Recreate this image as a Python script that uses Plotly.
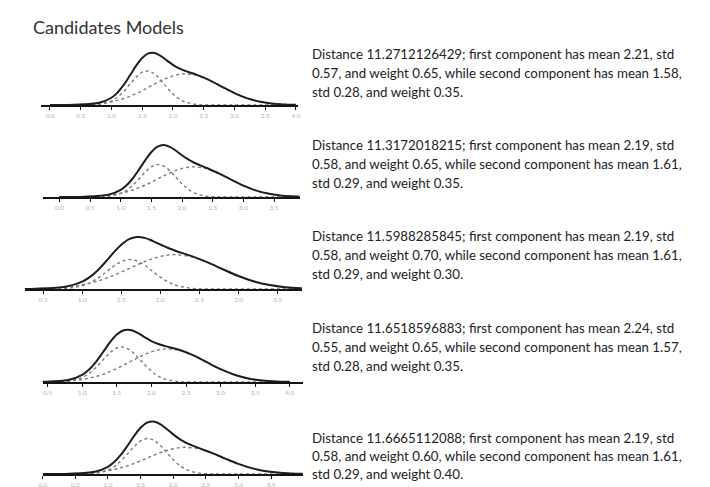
import plotly.graph_objects as go

# ---------------- data ----------------
x_grid = [0.0, 0.4, 0.8, 1.0, 1.1, 1.2, 1.3, 1.4, 1.5, 1.6, 1.7, 1.8, 1.9, 2.0,
          2.1, 2.2, 2.4, 2.6, 2.8, 3.0, 3.2, 3.4, 3.6, 3.8, 4.0]

# model 1
m1_total = [0.000, 0.003, 0.032, 0.106, 0.183, 0.293, 0.430, 0.571, 0.688, 0.754, 0.760, 0.717, 0.652,
            0.587, 0.535, 0.498, 0.437, 0.361, 0.266, 0.174, 0.101, 0.052, 0.023, 0.009, 0.003]
m1_first = [0.000, 0.003, 0.021, 0.048, 0.068, 0.095, 0.127, 0.166, 0.209, 0.257, 0.305, 0.351, 0.392,
            0.425, 0.447, 0.455, 0.430, 0.360, 0.266, 0.174, 0.101, 0.052, 0.023, 0.009, 0.003]
m1_second = [0.000, 0.000, 0.010, 0.058, 0.115, 0.199, 0.303, 0.406, 0.479, 0.497, 0.455, 0.366, 0.260,
             0.162, 0.089, 0.043, 0.007, 0.001, 0.000, 0.000, 0.000, 0.000, 0.000, 0.000, 0.000]
# model 2
m2_total = [0.000, 0.004, 0.035, 0.107, 0.179, 0.281, 0.410, 0.547, 0.668, 0.748, 0.772, 0.745, 0.687,
            0.619, 0.557, 0.508, 0.431, 0.350, 0.257, 0.169, 0.098, 0.051, 0.023, 0.010, 0.003]
m2_first = [0.000, 0.004, 0.025, 0.055, 0.077, 0.104, 0.138, 0.177, 0.220, 0.267, 0.313, 0.357, 0.395,
            0.424, 0.442, 0.447, 0.419, 0.348, 0.257, 0.169, 0.098, 0.051, 0.023, 0.010, 0.003]
m2_second = [0.000, 0.000, 0.010, 0.053, 0.103, 0.177, 0.272, 0.371, 0.448, 0.481, 0.459, 0.389, 0.292,
             0.195, 0.116, 0.061, 0.012, 0.001, 0.000, 0.000, 0.000, 0.000, 0.000, 0.000, 0.000]
# model 3
m3_total = [0.000, 0.004, 0.036, 0.104, 0.170, 0.264, 0.382, 0.508, 0.621, 0.700, 0.730, 0.717, 0.675,
            0.624, 0.575, 0.534, 0.461, 0.376, 0.277, 0.182, 0.106, 0.055, 0.025, 0.010, 0.004]
m3_first = [0.000, 0.004, 0.027, 0.059, 0.082, 0.112, 0.148, 0.190, 0.237, 0.287, 0.337, 0.384, 0.425,
            0.456, 0.476, 0.482, 0.451, 0.375, 0.277, 0.182, 0.106, 0.055, 0.025, 0.010, 0.004]
m3_second = [0.000, 0.000, 0.008, 0.045, 0.088, 0.152, 0.233, 0.318, 0.384, 0.413, 0.393, 0.333, 0.250,
             0.167, 0.099, 0.052, 0.010, 0.001, 0.000, 0.000, 0.000, 0.000, 0.000, 0.000, 0.000]
# model 4
m4_total = [0.000, 0.002, 0.027, 0.100, 0.177, 0.287, 0.423, 0.562, 0.674, 0.736, 0.739, 0.698, 0.639,
            0.582, 0.540, 0.510, 0.458, 0.381, 0.281, 0.182, 0.103, 0.051, 0.022, 0.008, 0.003]
m4_first = [0.000, 0.002, 0.015, 0.037, 0.055, 0.079, 0.109, 0.147, 0.191, 0.240, 0.291, 0.342, 0.390,
            0.429, 0.457, 0.470, 0.452, 0.381, 0.281, 0.182, 0.103, 0.051, 0.022, 0.008, 0.003]
m4_second = [0.000, 0.000, 0.011, 0.063, 0.122, 0.208, 0.313, 0.415, 0.483, 0.496, 0.448, 0.356, 0.249,
             0.153, 0.083, 0.040, 0.006, 0.001, 0.000, 0.000, 0.000, 0.000, 0.000, 0.000, 0.000]
# model 5
m5_total = [0.000, 0.004, 0.035, 0.111, 0.188, 0.299, 0.438, 0.587, 0.716, 0.796, 0.813, 0.773, 0.698,
            0.614, 0.540, 0.482, 0.400, 0.323, 0.238, 0.156, 0.091, 0.047, 0.022, 0.009, 0.003]
m5_first = [0.000, 0.004, 0.023, 0.050, 0.071, 0.096, 0.127, 0.163, 0.203, 0.246, 0.289, 0.329, 0.364,
            0.391, 0.408, 0.413, 0.387, 0.322, 0.237, 0.156, 0.091, 0.047, 0.022, 0.009, 0.003]
m5_second = [0.000, 0.000, 0.011, 0.060, 0.117, 0.203, 0.311, 0.423, 0.512, 0.550, 0.524, 0.444, 0.334,
             0.223, 0.132, 0.069, 0.014, 0.002, 0.000, 0.000, 0.000, 0.000, 0.000, 0.000, 0.000]

ticks_a = [0.0, 0.5, 1.0, 1.5, 2.0, 2.5, 3.0, 3.5, 4.0]
ticks_b = [0.5, 1.0, 1.5, 2.0, 2.5, 3.0, 3.5]
ticks_c = [0.5, 1.0, 1.5, 2.0, 2.5, 3.0, 3.5, 4.0]

title_text = "Candidates Models"
captions = [
    ["Distance 11.2712126429; first component has mean 2.21, std",
     "0.57, and weight 0.65, while second component has mean 1.58,",
     "std 0.28, and weight 0.35."],
    ["Distance 11.3172018215; first component has mean 2.19, std",
     "0.58, and weight 0.65, while second component has mean 1.61,",
     "std 0.29, and weight 0.35."],
    ["Distance 11.5988285845; first component has mean 2.19, std",
     "0.58, and weight 0.70, while second component has mean 1.61,",
     "std 0.29, and weight 0.30."],
    ["Distance 11.6518596883; first component has mean 2.24, std",
     "0.55, and weight 0.65, while second component has mean 1.57,",
     "std 0.28, and weight 0.35."],
    ["Distance 11.6665112088; first component has mean 2.19, std",
     "0.58, and weight 0.60, while second component has mean 1.61,",
     "std 0.29, and weight 0.40."],
]

# ---------------- layout (pixel geometry) ----------------
W, H = 710, 487
FONT = "Lato, 'Open Sans', sans-serif"

panels = [
    dict(total=m1_total, first=m1_first, second=m1_second, ticks=ticks_a,
         left=28, right=288, axis_y=97, xr=[-0.15, 4.03], ytop=0.906, text_y=[46, 65, 84]),
    dict(total=m2_total, first=m2_first, second=m2_second, ticks=ticks_a[:-1],
         left=30, right=290, axis_y=189, xr=[-0.274, 3.919], ytop=0.920, text_y=[137, 156, 175]),
    dict(total=m3_total, first=m3_first, second=m3_second, ticks=ticks_b,
         left=12, right=292, axis_y=281, xr=[0.266, 3.81], ytop=0.870, text_y=[228, 247, 266]),
    dict(total=m4_total, first=m4_first, second=m4_second, ticks=ticks_c,
         left=30, right=293, axis_y=374, xr=[0.429, 4.186], ytop=0.881, text_y=[320, 339, 358]),
    dict(total=m5_total, first=m5_first, second=m5_second, ticks=ticks_a,
         left=30, right=293, axis_y=466, xr=[0.0, 3.985], ytop=0.960, text_y=[430, 448, 466]),
]

fig = go.Figure()
layout_axes = {}
annotations = []
PLOT_H = 62

for i, p in enumerate(panels, start=1):
    xa = "x" if i == 1 else f"x{i}"
    ya = "y" if i == 1 else f"y{i}"
    for series, dash, color, width in [(p["first"], "dot", "#7a7a7a", 1.4),
                                       (p["second"], "dot", "#7a7a7a", 1.4),
                                       (p["total"], "solid", "#1e1e1e", 2.0)]:
        fig.add_trace(go.Scatter(x=x_grid, y=series, mode="lines", xaxis=xa, yaxis=ya,
                                 line=dict(color=color, width=width, dash=dash,
                                           shape="spline", smoothing=1.0),
                                 hoverinfo="skip", showlegend=False))
    xkey = "xaxis" if i == 1 else f"xaxis{i}"
    ykey = "yaxis" if i == 1 else f"yaxis{i}"
    layout_axes[xkey] = dict(
        domain=[p["left"] / W, p["right"] / W], anchor=ya, range=p["xr"],
        showline=True, linecolor="#141414", linewidth=1.5,
        ticks="outside", ticklen=3, tickwidth=1, tickcolor="#141414",
        tickvals=p["ticks"], ticktext=[f"{t:.1f}" for t in p["ticks"]],
        tickfont=dict(size=6.5, color="#b4b4b4", family=FONT),
        showgrid=False, zeroline=False, fixedrange=True)
    layout_axes[ykey] = dict(
        domain=[1 - p["axis_y"] / H, 1 - (p["axis_y"] - PLOT_H) / H], anchor=xa,
        range=[0, p["ytop"]], visible=False, showgrid=False, zeroline=False, fixedrange=True)
    for line, ty in zip(captions[i - 1], p["text_y"]):
        annotations.append(dict(text=line, x=300 / W, y=1 - ty / H, xref="paper", yref="paper",
                                xanchor="left", yanchor="middle", showarrow=False,
                                font=dict(size=13.3, color="#222222", family=FONT)))

annotations.append(dict(text=title_text, x=18 / W, y=1 - 19 / H, xref="paper", yref="paper",
                        xanchor="left", yanchor="middle", showarrow=False,
                        font=dict(size=18, color="#333333", family=FONT)))

fig.update_layout(width=W, height=H, margin=dict(l=0, r=0, t=0, b=0),
                  paper_bgcolor="white", plot_bgcolor="white",
                  annotations=annotations, **layout_axes)

fig.write_html("out.html")
